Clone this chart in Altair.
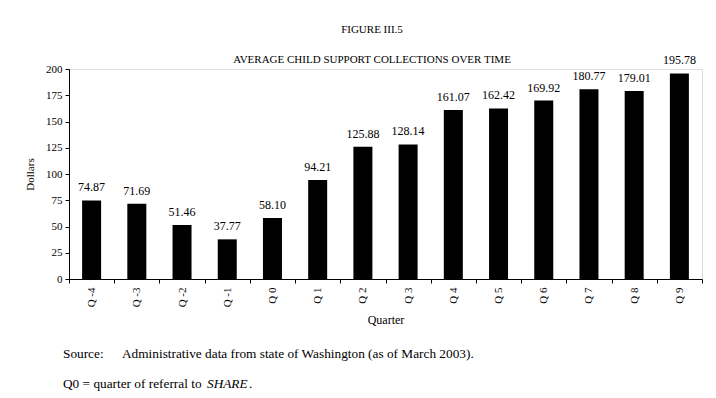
import altair as alt
import pandas as pd

quarters = ["Q -4", "Q -3", "Q -2", "Q -1", "Q 0", "Q 1", "Q 2", "Q 3",
            "Q 4", "Q 5", "Q 6", "Q 7", "Q 8", "Q 9"]
dollars = [74.87, 71.69, 51.46, 37.77, 58.10, 94.21, 125.88, 128.14,
           161.07, 162.42, 169.92, 180.77, 179.01, 195.78]
y_ticks = [0, 25, 50, 75, 100, 125, 150, 175, 200]

df = pd.DataFrame({"Quarter": quarters, "Dollars": dollars})
df["label"] = [f"{v:.2f}" for v in dollars]

FONT = "Liberation Serif"
W, H = 633, 210

x = alt.X("Quarter:N", sort=quarters, title="Quarter",
          scale=alt.Scale(paddingInner=0, paddingOuter=0),
          axis=alt.Axis(labelAngle=-90, tickBand="extent", tickSize=4,
                        labelPadding=4, labelFontSize=11, titleFontSize=12,
                        titlePadding=8, domainColor="black", tickColor="black",
                        labelColor="black", titleColor="black",
                        labelFont=FONT, titleFont=FONT, titleFontWeight="normal"))
y = alt.Y("Dollars:Q", title="Dollars",
          scale=alt.Scale(domain=[0, 200], nice=False),
          axis=alt.Axis(values=y_ticks, tickSize=4, labelPadding=3, grid=False,
                        labelOverlap=False,
                        labelFontSize=11, titleFontSize=11, titlePadding=10,
                        domainColor="black", tickColor="black",
                        labelColor="black", titleColor="black",
                        labelFont=FONT, titleFont=FONT, titleFontWeight="normal"))

bars = alt.Chart(df).mark_bar(color="black", size=19).encode(x=x, y=y)
labels = alt.Chart(df).mark_text(font=FONT, fontSize=12, baseline="bottom",
                                 dy=-6, color="black").encode(
    x=x, y=y, text="label:N")

notes = pd.DataFrame({
    "t": ["FIGURE III.5", "AVERAGE CHILD SUPPORT COLLECTIONS OVER TIME"],
    "px": [303, 303], "py": [-39, -9]})
heads = alt.Chart(notes).mark_text(font=FONT, fontSize=11, color="black",
                                   align="center", baseline="middle").encode(
    x=alt.X("px:Q", scale=None), y=alt.Y("py:Q", scale=None), text="t:N")

foot = pd.DataFrame({
    "t": ["Source:", "Administrative data from state of Washington (as of March 2003).",
          "Q0 = quarter of referral to "],
    "px": [-6, 53, -6], "py": [285, 285, 315]})
feet = alt.Chart(foot).mark_text(font=FONT, fontSize=13.3, color="black",
                                 align="left", baseline="middle").encode(
    x=alt.X("px:Q", scale=None), y=alt.Y("py:Q", scale=None), text="t:N")
share = alt.Chart(pd.DataFrame({"t": ["SHARE"], "px": [138], "py": [315]})).mark_text(
    font=FONT, fontSize=13.3, fontStyle="italic", color="black",
    align="left", baseline="middle").encode(
    x=alt.X("px:Q", scale=None), y=alt.Y("py:Q", scale=None), text="t:N")
dot = alt.Chart(pd.DataFrame({"t": ["."], "px": [180], "py": [315]})).mark_text(
    font=FONT, fontSize=13.3, color="black", align="left", baseline="middle").encode(
    x=alt.X("px:Q", scale=None), y=alt.Y("py:Q", scale=None), text="t:N")

chart = alt.layer(bars, labels, heads, feet, share, dot).properties(
    width=W, height=H,
    autosize=alt.AutoSizeParams(type="none"),
    padding={"left": 61, "top": 61, "right": 6, "bottom": 118},
).configure_view(stroke=None).configure(background="white")

chart.save("out.html", embed_options={"renderer": "svg", "actions": False})
